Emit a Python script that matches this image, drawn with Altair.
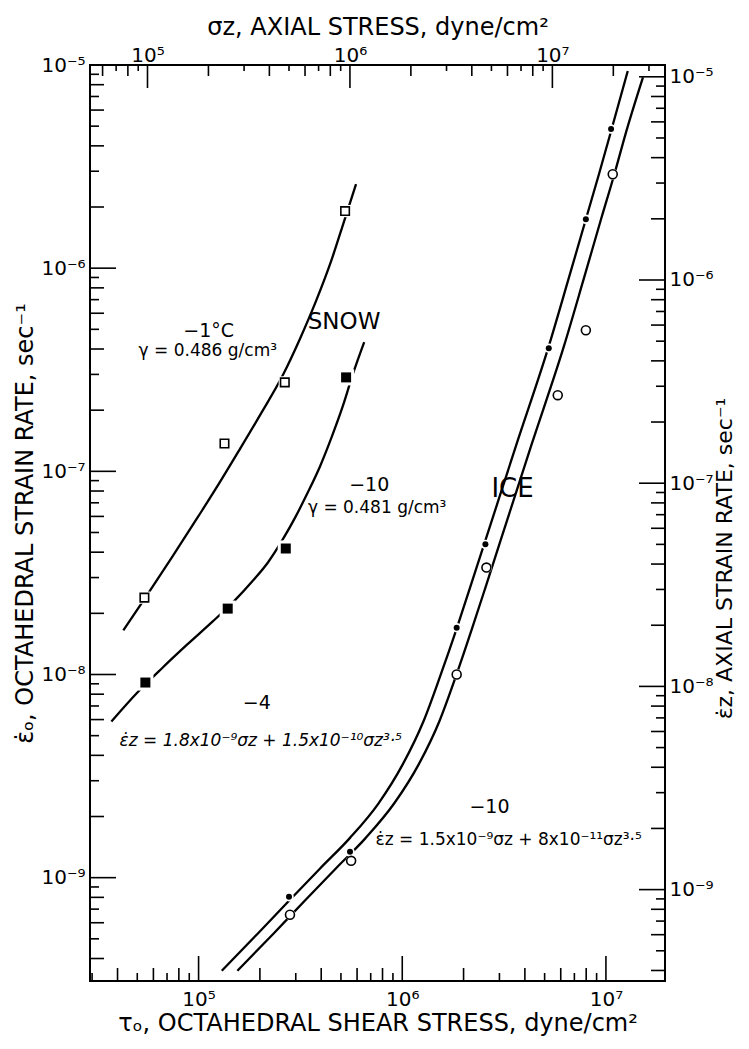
import altair as alt
import pandas as pd

# ---------------- values ----------------
# tau_o (octahedral shear stress, dyne/cm2) and eps_o (octahedral strain rate, 1/s)
SNOW_M1_TAU = [5.42e4, 1.34e5, 2.65e5, 5.24e5]          # open squares, -1 C
SNOW_M1_EPS = [2.39e-8, 1.37e-7, 2.74e-7, 1.91e-6]
SNOW_M10_TAU = [5.48e4, 1.39e5, 2.68e5, 5.30e5]         # filled squares, -10 C
SNOW_M10_EPS = [9.13e-9, 2.11e-8, 4.17e-8, 2.90e-7]
ICE_M4_TAU = [2.78e5, 5.54e5, 1.85e6, 2.56e6, 5.24e6, 7.97e6, 1.06e7]   # filled circles
ICE_M4_EPS = [8.06e-10, 1.34e-9, 1.70e-8, 4.37e-8, 4.04e-7, 1.74e-6, 4.84e-6]
ICE_M10_TAU = [2.81e5, 5.61e5, 1.85e6, 2.59e6, 5.80e6, 7.97e6, 1.08e7]  # open circles
ICE_M10_EPS = [6.57e-10, 1.21e-9, 1.0e-8, 3.36e-8, 2.37e-7, 4.95e-7, 2.90e-6]

# drawn curves
CURVE_SNOW_M1_TAU = [4.27e4, 5.48e4, 7.45e4, 9.89e4, 1.27e5, 1.59e5, 2.04e5, 2.59e5,
                     3.14e5, 3.77e5, 4.47e5, 5.18e5, 5.93e5]
CURVE_SNOW_M1_EPS = [1.65e-8, 2.39e-8, 3.81e-8, 5.93e-8, 8.82e-8, 1.28e-7, 1.95e-7, 2.97e-7,
                     4.47e-7, 6.88e-7, 1.08e-6, 1.70e-6, 2.59e-6]
CURVE_SNOW_M10_TAU = [3.73e4, 5.06e4, 6.65e4, 8.83e4, 1.17e5, 1.49e5, 1.85e5, 2.19e5,
                      2.59e5, 3.00e5, 3.44e5, 3.95e5, 4.52e5, 5.12e5, 5.74e5, 6.50e5]
CURVE_SNOW_M10_EPS = [5.87e-9, 8.25e-9, 1.08e-8, 1.41e-8, 1.82e-8, 2.29e-8, 2.90e-8, 3.56e-8,
                      4.62e-8, 6.00e-8, 7.88e-8, 1.06e-7, 1.49e-7, 2.11e-7, 3.04e-7, 4.32e-7]
CURVE_ICE_M4_TAU = [1.30e5, 1.95e5, 2.78e5, 3.95e5, 5.54e5, 7.62e5, 1.01e6, 1.27e6, 1.54e6,
                    1.85e6, 2.16e6, 2.56e6, 3.64e6, 5.24e6, 6.57e6, 7.97e6, 9.24e6, 1.06e7, 1.28e7]
CURVE_ICE_M4_EPS = [3.48e-10, 5.30e-10, 7.70e-10, 1.11e-9, 1.57e-9, 2.31e-9, 3.64e-9, 5.87e-9,
                    9.89e-9, 1.68e-8, 2.71e-8, 4.57e-8, 1.36e-7, 4.13e-7, 8.93e-7, 1.74e-6,
                    2.90e-6, 4.73e-6, 9.34e-6]
CURVE_ICE_M10_TAU = [1.55e5, 2.33e5, 3.32e5, 4.72e5, 6.62e5, 9.10e5, 1.21e6, 1.52e6, 1.84e6,
                     2.20e6, 2.57e6, 3.04e6, 4.32e6, 6.22e6, 7.80e6, 9.46e6, 1.10e7, 1.26e7, 1.52e7]
CURVE_ICE_M10_EPS = [3.48e-10, 5.30e-10, 7.70e-10, 1.11e-9, 1.57e-9, 2.31e-9, 3.64e-9, 5.87e-9,
                     9.89e-9, 1.68e-8, 2.71e-8, 4.57e-8, 1.36e-7, 4.13e-7, 8.93e-7, 1.74e-6,
                     2.90e-6, 4.73e-6, 8.70e-6]

# annotations: text, tau, eps (anchor in data coordinates)
ANN_TEXT = ["SNOW", "ICE", "−1°C", "γ = 0.486 g/cm³", "−10", "γ = 0.481 g/cm³", "−4",
            "ε̇z = 1.8x10⁻⁹σz + 1.5x10⁻¹⁰σz³·⁵", "−10", "ε̇z = 1.5x10⁻⁹σz + 8x10⁻¹¹σz³·⁵"]
ANN_TAU = [5.18e5, 3.48e6, 1.12e5, 1.11e5, 6.88e5, 7.53e5, 1.93e5, 2.02e5, 2.68e6, 3.33e6]
ANN_EPS = [5.42e-7, 8.15e-8, 4.9e-7, 3.9e-7, 8.53e-8, 6.58e-8, 7.28e-9, 4.73e-9, 2.24e-9, 1.54e-9]

# axes
TAU_DOMAIN = [2.93e4, 1.95e7]
SIGMA_DOMAIN = [5.2e4, 3.6e7]
EPS_DOMAIN = [3.1e-10, 1e-5]
EPSZ_DOMAIN = [3.55e-10, 1.143e-5]
X_MAJOR = [1e5, 1e6, 1e7]
X_LABELS = ["10⁵", "10⁶", "10⁷"]
Y_MAJOR = [1e-9, 1e-8, 1e-7, 1e-6, 1e-5]
Y_LABELS = ["10⁻⁹", "10⁻⁸", "10⁻⁷", "10⁻⁶", "10⁻⁵"]
BOTTOM_TITLE = "τₒ, OCTAHEDRAL SHEAR STRESS, dyne/cm²"
TOP_TITLE = "σz, AXIAL STRESS, dyne/cm²"
LEFT_TITLE = "ε̇ₒ, OCTAHEDRAL STRAIN RATE, sec⁻¹"
RIGHT_TITLE = "ε̇z, AXIAL STRAIN RATE, sec⁻¹"

# ---------------- layout / style ----------------
W, H = 575, 916
FONT = "DejaVu Sans"
LINE_W = 2.3
TICK_LEN = {"major": 25, "even": 13, "odd": 8}


def minor_ticks(lo, hi, mults):
    out = []
    for e in range(-11, 9):
        for m in mults:
            v = m * 10.0 ** e
            if lo * 1.02 < v < hi / 1.02:
                out.append(v)
    return out


def tick_sets(domain, majors):
    return {"major": majors,
            "even": minor_ticks(domain[0], domain[1], (2, 4, 6, 8)),
            "odd": minor_ticks(domain[0], domain[1], (3, 5, 7, 9))}


def lab_expr(vals, labs):
    e = "''"
    for v, s in zip(reversed(vals), reversed(labs)):
        e = f"datum.value == {v!r} ? '{s}' : ({e})"
    return e


XS = alt.Scale(type="log", domain=TAU_DOMAIN, nice=False)
YS = alt.Scale(type="log", domain=EPS_DOMAIN, nice=False)
XT = alt.Scale(type="log", domain=SIGMA_DOMAIN, nice=False)
YR = alt.Scale(type="log", domain=EPSZ_DOMAIN, nice=False)

common = dict(ticks=False, tickSize=0, domain=False, grid=False, labelFont=FONT,
              labelFontSize=20, labelColor="black", titleFont=FONT,
              titleFontWeight="normal", titleColor="black", labelFlush=False,
              labelOverlap=False)
AX_B = alt.Axis(orient="bottom", values=X_MAJOR, labelExpr=lab_expr(X_MAJOR, X_LABELS),
                title=BOTTOM_TITLE, labelPadding=8, titlePadding=2, titleFontSize=24, **common)
AX_T = alt.Axis(orient="top", values=X_MAJOR, labelExpr=lab_expr(X_MAJOR, X_LABELS),
                title=TOP_TITLE, labelPadding=4, labelBaseline="alphabetic",
                titlePadding=6, titleFontSize=24, **common)
AX_L = alt.Axis(orient="left", values=Y_MAJOR, labelExpr=lab_expr(Y_MAJOR, Y_LABELS),
                title=LEFT_TITLE, labelPadding=5, titlePadding=3, titleFontSize=24, **common)
AX_R = alt.Axis(orient="right", values=Y_MAJOR, labelExpr=lab_expr(Y_MAJOR, Y_LABELS),
                title=RIGHT_TITLE, labelPadding=4, titlePadding=1, titleAngle=270,
                titleBaseline="top", titleY=H / 2 + 35, titleFontSize=22, **common)

XE = alt.X("tau:Q", scale=XS, axis=AX_B)
YE = alt.Y("eps:Q", scale=YS, axis=AX_L)

main_layers = []
# inward ticks, bottom & left
for kind, vals in tick_sets(TAU_DOMAIN, X_MAJOR).items():
    L = TICK_LEN[kind]
    main_layers.append(alt.Chart(pd.DataFrame({"tau": vals})).mark_rule(
        color="black", strokeWidth=1.6).encode(x=XE, y=alt.value(H), y2=alt.value(H - L)))
for kind, vals in tick_sets(EPS_DOMAIN, Y_MAJOR).items():
    L = TICK_LEN[kind] + 1
    main_layers.append(alt.Chart(pd.DataFrame({"eps": vals})).mark_rule(
        color="black", strokeWidth=1.6).encode(y=YE, x=alt.value(0), x2=alt.value(L)))

# curves
curves = pd.concat([
    pd.DataFrame({"tau": CURVE_SNOW_M1_TAU, "eps": CURVE_SNOW_M1_EPS, "series": "snow -1"}),
    pd.DataFrame({"tau": CURVE_SNOW_M10_TAU, "eps": CURVE_SNOW_M10_EPS, "series": "snow -10"}),
    pd.DataFrame({"tau": CURVE_ICE_M4_TAU, "eps": CURVE_ICE_M4_EPS, "series": "ice -4"}),
    pd.DataFrame({"tau": CURVE_ICE_M10_TAU, "eps": CURVE_ICE_M10_EPS, "series": "ice -10"}),
])
main_layers.append(alt.Chart(curves).mark_line(
    color="black", strokeWidth=LINE_W, interpolate="monotone").encode(
    x=XE, y=YE, detail="series:N"))

# symbols: (tau, eps, shape, halo size, symbol size, filled)
symbols = [
    (SNOW_M1_TAU, SNOW_M1_EPS, "square", 150, 72, False),
    (SNOW_M10_TAU, SNOW_M10_EPS, "square", 260, 100, True),
    (ICE_M4_TAU, ICE_M4_EPS, "circle", 90, 36, True),
    (ICE_M10_TAU, ICE_M10_EPS, "circle", 120, 80, False),
]
for tau, eps, shape, halo, size, filled in symbols:
    df = pd.DataFrame({"tau": tau, "eps": eps})
    main_layers.append(alt.Chart(df).mark_point(
        shape=shape, filled=True, color="white", size=halo, opacity=1, strokeWidth=0
    ).encode(x=XE, y=YE))
for tau, eps, shape, halo, size, filled in symbols:
    df = pd.DataFrame({"tau": tau, "eps": eps})
    if filled:
        m = alt.Chart(df).mark_point(shape=shape, filled=True, color="black", size=size,
                                     opacity=1, strokeWidth=0)
    else:
        m = alt.Chart(df).mark_point(shape=shape, filled=True, fill="white", stroke="black",
                                     strokeWidth=1.6, size=size, opacity=1)
    main_layers.append(m.encode(x=XE, y=YE))

# annotations
ANN_STYLE = [dict(fontSize=23), dict(fontSize=26), dict(fontSize=19), dict(fontSize=17),
             dict(fontSize=19), dict(fontSize=17), dict(fontSize=19),
             dict(fontSize=17, fontStyle="italic"), dict(fontSize=19), dict(fontSize=17)]
for i, txt in enumerate(ANN_TEXT):
    df = pd.DataFrame({"tau": [ANN_TAU[i]], "eps": [ANN_EPS[i]], "label": [txt]})
    main_layers.append(alt.Chart(df).mark_text(
        font=FONT, color="black", align="center", baseline="middle", **ANN_STYLE[i]
    ).encode(x=XE, y=YE, text="label:N"))

main = alt.layer(*main_layers)

# top axis (axial stress) with inward ticks
top_layers = []
XTE = alt.X("sigma:Q", scale=XT, axis=AX_T)
for kind, vals in tick_sets(SIGMA_DOMAIN, X_MAJOR).items():
    L = TICK_LEN[kind] - 2
    top_layers.append(alt.Chart(pd.DataFrame({"sigma": vals})).mark_rule(
        color="black", strokeWidth=1.6).encode(x=XTE, y=alt.value(0), y2=alt.value(L)))
top = alt.layer(*top_layers)

# right axis (axial strain rate) with inward ticks
right_layers = []
YRE = alt.Y("epsz:Q", scale=YR, axis=AX_R)
for kind, vals in tick_sets(EPSZ_DOMAIN, Y_MAJOR).items():
    L = TICK_LEN[kind] + 1
    right_layers.append(alt.Chart(pd.DataFrame({"epsz": vals})).mark_rule(
        color="black", strokeWidth=1.6).encode(y=YRE, x=alt.value(W), x2=alt.value(W - L)))
right = alt.layer(*right_layers)

chart = alt.layer(main, top, right).resolve_scale(
    x="independent", y="independent"
).resolve_axis(x="independent", y="independent").properties(
    width=W, height=H,
    autosize=alt.AutoSizeParams(type="none"),
    padding={"left": 82, "top": 57, "right": 76, "bottom": 60},
).configure_view(stroke="black", strokeWidth=2)

chart.save("out.html", embed_options={"renderer": "svg", "actions": False})
